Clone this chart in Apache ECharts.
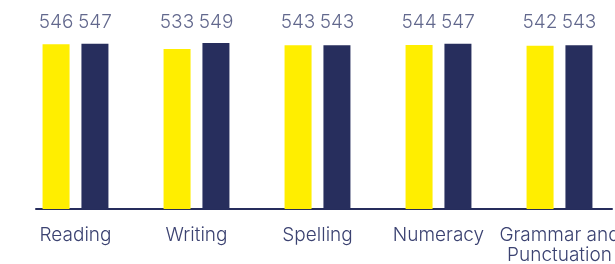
<!DOCTYPE html>
<html>
<head>
<meta charset="utf-8">
<script src="https://cdn.jsdelivr.net/npm/echarts@6/dist/echarts.min.js"></script>
<style>html,body{margin:0;padding:0;background:#fff}#c{width:615px;height:264px}</style>
</head>
<body>
<div id="c"></div>
<script>
var categories = ['Reading', 'Writing', 'Spelling', 'Numeracy', 'Grammar and\nPunctuation'];
var seriesA = [546, 533, 543, 544, 542];
var seriesB = [547, 549, 543, 547, 543];

var textColor = '#3b4271';
var LABEL_ROW = 604; // value-axis level at which the value labels sit in a row
var chart = echarts.init(document.getElementById('c'));

function labelRow(values, dx) {
  return {
    type: 'scatter', symbolSize: 0, clip: false, silent: true,
    data: values.map(function (v, i) { return [i, LABEL_ROW, v]; }),
    label: {show: true, position: 'inside', offset: [dx, 0], color: textColor,
            fontFamily: 'Inter', fontSize: 19, fontWeight: 300,
            formatter: function (p) { return p.value[2]; }}
  };
}

chart.setOption({
  animation: false,
  grid: [
    {left: 15, right: -5, top: 39, bottom: 55, outerBoundsMode: 'none', containLabel: false},
    {left: 36, right: 3, top: 39, bottom: 55, outerBoundsMode: 'none', containLabel: false}
  ],
  xAxis: [
    {type: 'category', gridIndex: 0, data: categories,
     axisLine: {show: false}, axisTick: {show: false},
     axisLabel: {color: textColor, fontFamily: 'Inter', fontSize: 19, fontWeight: 300, margin: 16, lineHeight: 20, interval: 0, hideOverlap: false}},
    {type: 'value', gridIndex: 1, min: 0, max: 1,
     axisLine: {show: true, lineStyle: {color: '#262d5c', width: 2}},
     axisTick: {show: false}, axisLabel: {show: false}, splitLine: {show: false}}
  ],
  yAxis: [
    {type: 'value', gridIndex: 0, min: 100, max: 560, show: false, splitLine: {show: false}},
    {type: 'value', gridIndex: 1, show: false, splitLine: {show: false}}
  ],
  series: [
    {type: 'bar', data: seriesA, barWidth: 27, barGap: '44%', itemStyle: {color: '#ffee00'}},
    {type: 'bar', data: seriesB, barWidth: 27, barGap: '44%', itemStyle: {color: '#272e5d'}},
    labelRow(seriesA, -19.5),
    labelRow(seriesB, 19.5)
  ]
});
</script>
</body>
</html>
